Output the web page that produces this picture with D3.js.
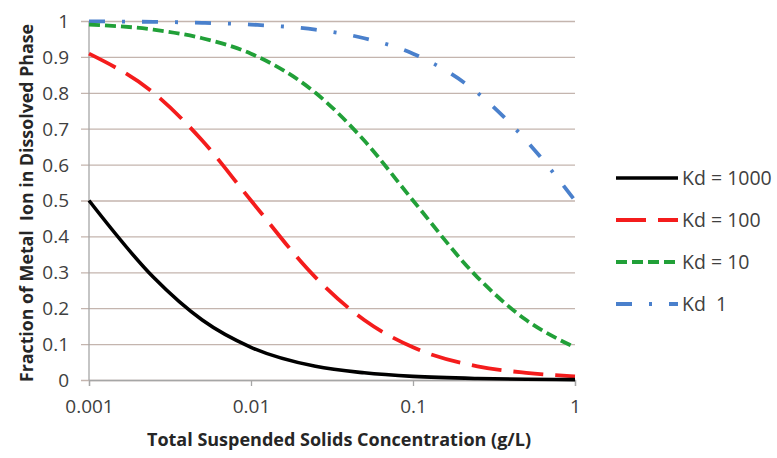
<!DOCTYPE html>
<html><head><meta charset="utf-8">
<script src="https://cdn.jsdelivr.net/npm/d3@7"></script>
<style>
html,body{margin:0;padding:0;background:#fff;}
svg{display:block;}
text{font-family:"Open Sans","Liberation Sans",Arial,sans-serif;}
</style></head>
<body><svg id="c" width="777" height="458"></svg>
<script>
const tss = [0.001, 0.0025, 0.005, 0.01, 0.025, 0.05, 0.1, 0.25, 0.5, 1];
const kd1000 = [0.5, 0.286, 0.167, 0.091, 0.038, 0.020, 0.010, 0.004, 0.002, 0.001];
const kd100 = [0.909, 0.8, 0.667, 0.5, 0.286, 0.167, 0.091, 0.038, 0.020, 0.010];
const kd10 = [0.990, 0.976, 0.952, 0.909, 0.8, 0.667, 0.5, 0.286, 0.167, 0.091];
const kd1 = [0.999, 0.9975, 0.995, 0.990, 0.976, 0.952, 0.909, 0.8, 0.667, 0.5];
const seriesNames = ["Kd = 1000", "Kd = 100", "Kd = 10", "Kd  1"];
const xTicks = [0.001, 0.01, 0.1, 1];
const xTickLabels = ["0.001", "0.01", "0.1", "1"];
const yTicks = [0, 0.1, 0.2, 0.3, 0.4, 0.5, 0.6, 0.7, 0.8, 0.9, 1];
const yTickLabels = ["0", "0.1", "0.2", "0.3", "0.4", "0.5", "0.6", "0.7", "0.8", "0.9", "1"];

const svg = d3.select("#c");
const L = 89, R = 575, T = 21, B = 380;
const x = d3.scaleLog().domain([0.001, 1]).range([L, R]);
const y = d3.scaleLinear().domain([0, 1]).range([B, T]);

// gridlines
const yAxis = d3.axisLeft(y).tickValues(yTicks).tickFormat((d, i) => yTickLabels[i]).tickSize(-(R - L)).tickPadding(20);
const gy = svg.append("g").attr("transform", `translate(${L},0)`).call(yAxis);
gy.select(".domain").remove();
gy.selectAll(".tick line").attr("stroke", "#c4b5ae").attr("stroke-width", 1.3).attr("x1", -8);
gy.selectAll(".tick text").attr("font-size", 19).attr("fill", "#404040").attr("dy", "0.34em");

// y axis line
svg.append("line").attr("x1", L).attr("x2", L).attr("y1", T).attr("y2", B).attr("stroke", "#a6a6a6").attr("stroke-width", 1.3);

const xAxis = d3.axisBottom(x).tickValues(xTicks).tickFormat((d, i) => xTickLabels[i]).tickSize(6).tickPadding(14);
const gx = svg.append("g").attr("transform", `translate(0,${B})`).call(xAxis);
gx.select(".domain").attr("stroke", "#a6a6a6").attr("stroke-width", 1.3);
gx.selectAll(".tick line").attr("stroke", "#a6a6a6").attr("stroke-width", 1.3);
gx.selectAll(".tick text").attr("font-size", 19).attr("fill", "#404040");

const styles = [
  {data: kd1000, color: "#000000", dash: null, w: 3.6},
  {data: kd100, color: "#f41c1c", dash: "30,12", w: 3.8},
  {data: kd10, color: "#21a038", dash: "11,5", w: 3.8},
  {data: kd1, color: "#4a80cc", dash: "16,17,3,17", w: 3.8}
];

const line = d3.line().x(d => x(d[0])).y(d => y(d[1])).curve(d3.curveMonotoneX);
styles.slice().reverse().forEach(s => {
  svg.append("path")
    .datum(tss.map((t, i) => [t, s.data[i]]))
    .attr("d", line)
    .attr("fill", "none")
    .attr("stroke", s.color)
    .attr("stroke-width", s.w)
    .attr("stroke-dasharray", s.dash)
    .attr("stroke-linejoin", "round");
});

// legend
const leg = svg.append("g");
styles.forEach((s, i) => {
  const ly = 178 + i * 42;
  leg.append("line").attr("x1", 616).attr("x2", 678).attr("y1", ly).attr("y2", ly)
    .attr("stroke", s.color).attr("stroke-width", s.w)
    .attr("stroke-dasharray", s.dash);
  leg.append("text").attr("x", 682).attr("y", ly).attr("dy", "0.35em")
    .attr("font-size", 19.5).attr("fill", "#404040")
    .style("white-space", "pre")
    .text(seriesNames[i]);
});

// axis titles
svg.append("text").attr("x", 339).attr("y", 446).attr("text-anchor", "middle")
  .attr("font-size", 18).attr("font-weight", "bold").attr("fill", "#262626")
  .text("Total Suspended Solids Concentration (g/L)");
svg.append("text").attr("transform", "translate(33,203) rotate(-90)").attr("text-anchor", "middle")
  .attr("font-size", 17.8).attr("font-weight", "bold").attr("fill", "#262626")
  .style("white-space", "pre")
  .text("Fraction of Metal  Ion in Dissolved Phase");
</script></body></html>
